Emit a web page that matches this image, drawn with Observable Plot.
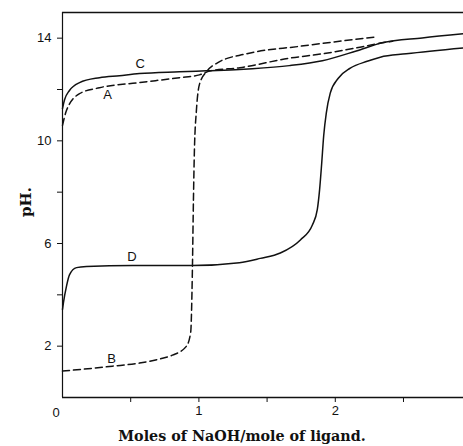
<!DOCTYPE html>
<html>
<head>
<meta charset="utf-8">
<script src="https://cdn.jsdelivr.net/npm/d3@7"></script>
<script src="https://cdn.jsdelivr.net/npm/@observablehq/plot@0.6"></script>
<style>
  html, body { margin: 0; padding: 0; background: #fff; }
  #chart svg { display: block; }
</style>
</head>
<body>
<div id="chart"></div>
<script>
// Curve A (dashed)
const aX = [0, 0.029, 0.125, 0.271, 0.564, 0.857, 1.004, 1.08, 1.30, 1.663, 1.905, 2.154, 2.344, 2.42];
const aY = [10.6, 11.18, 11.84, 12.07, 12.27, 12.46, 12.57, 12.72, 12.85, 13.22, 13.39, 13.62, 13.82, 13.88];
// Curve B (dashed)
const bX = [0, 0.147, 0.366, 0.564, 0.711, 0.806, 0.909, 0.940, 0.952, 0.960, 0.967, 0.982, 1.004, 1.062, 1.136, 1.348, 1.736, 2.03, 2.30];
const bY = [1.03, 1.1, 1.22, 1.34, 1.5, 1.65, 2.0, 2.55, 4.86, 7.7, 9.6, 11.2, 12.2, 12.73, 13.04, 13.39, 13.68, 13.88, 14.05];
// Curve C (solid)
const cX = [0, 0.015, 0.051, 0.125, 0.271, 0.418, 0.564, 0.857, 1.055, 1.297, 1.392, 1.663, 1.905, 2.154, 2.344, 2.637, 2.94];
const cY = [11.26, 11.6, 11.96, 12.27, 12.46, 12.54, 12.62, 12.69, 12.73, 12.78, 12.81, 12.93, 13.12, 13.5, 13.82, 14.01, 14.17];
// Curve D (solid)
const dX = [0, 0.007, 0.029, 0.051, 0.103, 0.176, 0.513, 0.952, 1.297, 1.45, 1.597, 1.744, 1.832, 1.868, 1.885, 1.900, 1.915, 1.934, 1.963, 2.022, 2.110, 2.234, 2.330, 2.52, 2.94];
const dY = [3.43, 3.7, 4.33, 4.78, 5.06, 5.1, 5.14, 5.14, 5.25, 5.42, 5.63, 6.14, 6.72, 7.32, 8.1, 9.1, 10.2, 11.08, 11.86, 12.44, 12.83, 13.10, 13.26, 13.39, 13.62];

const curveNames = ["A", "B", "C", "D"];
const curveLabelX = [0.33, 0.36, 0.57, 0.51];
const curveLabelY = [11.8, 1.5, 13.0, 5.5];

const xMajorTicks = [1, 2];
const xMinorTicks = [0.5, 1.5, 2.5];
const yMajorTicks = [2, 6, 10, 14];
const yMinorTicks = [4, 8, 12];

const toPts = (xs, ys) => xs.map((x, i) => ({x, y: ys[i]}));
const A = toPts(aX, aY), B = toPts(bX, bY), C = toPts(cX, cY), D = toPts(dX, dY);
const labels = curveNames.map((n, i) => ({n, x: curveLabelX[i], y: curveLabelY[i]}));

const ink = "#111";
const serif = "DejaVu Serif, Liberation Serif, serif";
const chart = Plot.plot({
  width: 463,
  height: 446,
  marginLeft: 62,
  marginRight: 0,
  marginTop: 12,
  marginBottom: 49,
  style: {fontFamily: "Liberation Sans, Arial, sans-serif", fontSize: "13px", color: ink, background: "#fff"},
  x: {domain: [0, 2.94]},
  y: {domain: [0, 15]},
  marks: [
    Plot.ruleY([15], {stroke: ink, strokeWidth: 1.5}),
    Plot.ruleY([0], {stroke: ink, strokeWidth: 1.5}),
    Plot.ruleX([0], {stroke: ink, strokeWidth: 1.2}),
    Plot.axisY(yMajorTicks, {tickSize: 5, tickPadding: 6, fontSize: 13, label: null, stroke: ink, tickFormat: d3.format("d")}),
    Plot.axisY(yMinorTicks, {tickSize: 5, tickFormat: () => "", label: null, stroke: ink}),
    Plot.axisX(xMajorTicks, {tickSize: 5, tickPadding: 3, fontSize: 13, label: null, stroke: ink, tickFormat: d3.format("d")}),
    Plot.axisX(xMinorTicks, {tickSize: 5, tickFormat: () => "", label: null, stroke: ink}),
    Plot.text(["0"], {frameAnchor: "bottom-left", dx: -10, dy: 19, fontSize: 13}),
    Plot.text(["pH."], {frameAnchor: "left", dx: -36, dy: 12, rotate: -90, fontFamily: serif, fontWeight: "bold", fontSize: 15}),
    Plot.text(["Moles of NaOH/mole of ligand."], {frameAnchor: "bottom", dx: -21, dy: 43, fontFamily: serif, fontWeight: "bold", fontSize: 14.3}),
    Plot.line(C, {x: "x", y: "y", curve: "monotone-x", stroke: ink, strokeWidth: 1.5}),
    Plot.line(D, {x: "x", y: "y", curve: "monotone-x", stroke: ink, strokeWidth: 1.5}),
    Plot.line(A, {x: "x", y: "y", curve: "monotone-x", stroke: ink, strokeWidth: 1.5, strokeDasharray: "7,4"}),
    Plot.line(B, {x: "x", y: "y", curve: "monotone-x", stroke: ink, strokeWidth: 1.5, strokeDasharray: "7,4"}),
    Plot.text(labels, {x: "x", y: "y", text: "n", fontSize: 13, fill: ink})
  ]
});
document.getElementById("chart").appendChild(chart);
</script>
</body>
</html>
